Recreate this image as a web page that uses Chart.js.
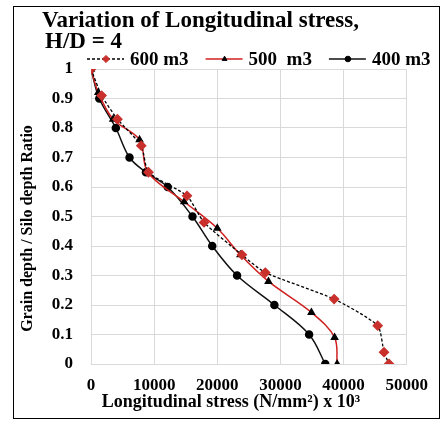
<!DOCTYPE html>
<html>
<head>
<meta charset="utf-8">
<script src="https://cdn.jsdelivr.net/npm/chart.js@4.4.0/dist/chart.umd.min.js"></script>
<style>
  html, body { margin: 0; background: #fff; overflow: hidden; }
  #frame { position: absolute; left: 13px; top: 6px; width: 425px; height: 411px; border: 1px solid #000; }
  canvas { display: block; }
</style>
</head>
<body>
<div id="frame"><canvas id="chart" width="425" height="411"></canvas></div>
<script>
// values
let stress600 = [0, 1680, 4190, 7960, 9100, 15200, 17900, 23900, 27600, 38500, 45400, 46400, 47200];
let depth600 = [1, 0.91, 0.83, 0.74, 0.65, 0.57, 0.48, 0.37, 0.31, 0.22, 0.13, 0.04, 0];

let stress500 = [0, 1150, 3500, 7690, 9000, 14760, 20000, 23650, 28100, 34900, 38570, 38980];
let depth500 = [1, 0.92, 0.83, 0.76, 0.65, 0.55, 0.46, 0.37, 0.28, 0.175, 0.09, 0];

let stress400 = [0, 1310, 3930, 6100, 8700, 12150, 16070, 19200, 23130, 29040, 34540, 37100];
let depth400 = [1, 0.9, 0.8, 0.7, 0.65, 0.6, 0.5, 0.4, 0.3, 0.2, 0.1, 0];

let seriesNames = ['600 m3', '500  m3', '400 m3'];
let titleLines = ['Variation of Longitudinal stress,', 'H/D = 4'];

const serif = "'Liberation Serif', 'Times New Roman', serif";

function toPoints(xs, ys) {
    return xs.map((x, i) => ({ x: x, y: ys[i] }));
}

// titre et légende dessinés au-dessus de la zone du graphique
const headerPlugin = {
    id: 'header',
    afterDraw(chart) {
        const ctx = chart.ctx;
        ctx.save();
        ctx.fillStyle = '#000';
        ctx.textBaseline = 'alphabetic';
        ctx.font = `bold 23px ${serif}`;
        ctx.fillText(titleLines[0], 28, 20);
        ctx.fillText(titleLines[1], 31, 41);

        ctx.font = `bold 19px ${serif}`;
        let x = 73;
        const y = 52;
        chart.data.datasets.forEach(ds => {
            ctx.save();
            ctx.strokeStyle = ds.borderColor;
            ctx.lineWidth = ds.borderWidth;
            ctx.setLineDash(ds.borderDash || []);
            ctx.beginPath();
            ctx.moveTo(x, y);
            ctx.lineTo(x + 37, y);
            ctx.stroke();
            ctx.restore();
            ctx.save();
            ctx.fillStyle = ds.pointBackgroundColor;
            ctx.strokeStyle = ds.pointBorderColor;
            Chart.helpers.drawPoint(ctx, {
                pointStyle: ds.pointStyle,
                radius: ds.pointRadius * 0.8,
                rotation: 0,
                borderWidth: 1
            }, x + 19, y);
            ctx.restore();
            ctx.fillStyle = '#000';
            ctx.fillText(ds.label, x + 43, y + 6);
            x += 43 + ctx.measureText(ds.label).width + 17;
        });
        ctx.restore();
    }
};

new Chart(document.getElementById('chart'), {
    type: 'scatter',
    data: {
        datasets: [
            {
                label: seriesNames[0],
                data: toPoints(stress600, depth600),
                showLine: true,
                borderColor: '#000',
                borderWidth: 1.3,
                borderDash: [3, 2],
                tension: 0.2,
                pointStyle: 'rectRot',
                pointRadius: 4.5,
                pointBackgroundColor: '#c9302c',
                pointBorderColor: '#c9302c'
            },
            {
                label: seriesNames[1],
                data: toPoints(stress500, depth500),
                showLine: true,
                borderColor: '#d0201f',
                borderWidth: 1.5,
                tension: 0.35,
                pointStyle: 'triangle',
                pointRadius: 3.5,
                pointBackgroundColor: '#000',
                pointBorderColor: '#000'
            },
            {
                label: seriesNames[2],
                data: toPoints(stress400, depth400),
                showLine: true,
                borderColor: '#111',
                borderWidth: 1.5,
                tension: 0.35,
                pointStyle: 'circle',
                pointRadius: 3.5,
                pointBackgroundColor: '#000',
                pointBorderColor: '#000'
            }
        ]
    },
    options: {
        responsive: false,
        animation: false,
        layout: { padding: { top: 62, right: 31, left: 0, bottom: 0 } },
        plugins: {
            legend: { display: false },
            tooltip: { enabled: false }
        },
        scales: {
            x: {
                type: 'linear',
                min: 0,
                max: 50000,
                afterFit: s => { s.height = 54; },
                ticks: {
                    stepSize: 10000,
                    padding: 11,
                    color: '#000',
                    font: { family: serif, size: 17, weight: 'bold' },
                    callback: v => String(v)
                },
                grid: { color: '#d9d9d9', drawTicks: false },
                border: { color: '#d9d9d9' },
                title: {
                    display: true,
                    text: 'Longitudinal stress (N/mm²) x 10³\u00a0\u00a0\u00a0\u00a0\u00a0\u00a0\u00a0\u00a0',
                    color: '#000',
                    font: { family: serif, size: 18, weight: 'bold' },
                    padding: { top: 0, bottom: 5 }
                }
            },
            y: {
                type: 'linear',
                min: 0,
                max: 1,
                afterFit: s => { s.width = 77; },
                ticks: {
                    stepSize: 0.1,
                    padding: 18,
                    color: '#000',
                    font: { family: serif, size: 17, weight: 'bold' },
                    callback: v => String(Math.round(v * 10) / 10)
                },
                grid: { color: '#d9d9d9', drawTicks: false },
                border: { color: '#d9d9d9' },
                title: {
                    display: true,
                    text: 'Grain depth / Silo depth Ratio\u00a0\u00a0\u00a0\u00a0\u00a0\u00a0',
                    color: '#000',
                    font: { family: serif, size: 16, weight: 'bold' },
                    padding: { top: 4, bottom: 0 }
                }
            }
        }
    },
    plugins: [headerPlugin]
});
</script>
</body>
</html>
